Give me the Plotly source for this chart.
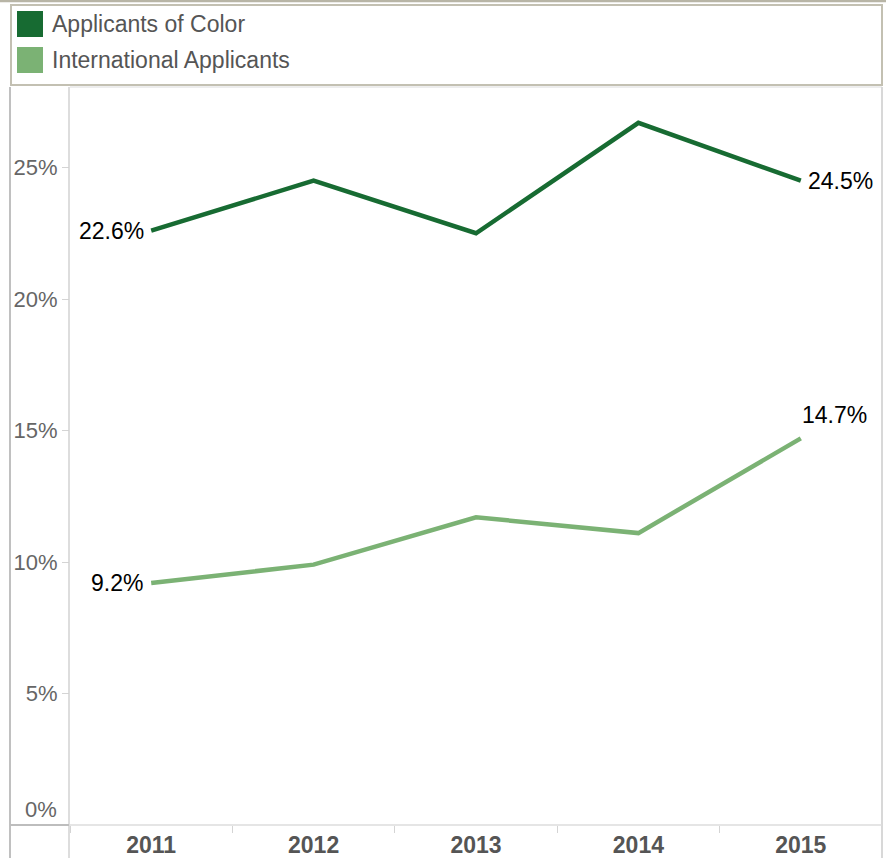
import plotly.graph_objects as go

# Share of applicants by group, 2011-2015 (percent)
years = ["2011", "2012", "2013", "2014", "2015"]
color_applicants = [22.6, 24.5, 22.5, 26.7, 24.5]
intl_applicants = [9.2, 9.9, 11.7, 11.1, 14.7]
series_names = ["Applicants of Color", "International Applicants"]
y_ticks = [0, 5, 10, 15, 20, 25]
y_tick_text = ["", "5%", "10%", "15%", "20%", "25%"]

DARK = "#176b32"
LIGHT = "#7bb274"
FONT = "Liberation Sans, Arial, sans-serif"

W, H = 886, 858
L, R, T, B = 70, 882, 87, 825   # plot area in pixels


def xp(px):
    return (px - L) / (R - L)


def yp(py):
    return (B - py) / (B - T)


fig = go.Figure()
for name, vals, col in [
    (series_names[0], color_applicants, DARK),
    (series_names[1], intl_applicants, LIGHT),
]:
    fig.add_trace(go.Scatter(
        x=years, y=vals, name=name, mode="lines",
        line=dict(color=col, width=4.5),
        hoverinfo="skip", showlegend=False,
    ))

shapes = []
annotations = []


def line(x0, y0, x1, y1, color, width=1):
    shapes.append(dict(type="line", xref="paper", yref="paper",
                       x0=xp(x0), y0=yp(y0), x1=xp(x1), y1=yp(y1),
                       line=dict(color=color, width=width), layer="above"))


def value_label(year, val, xanchor, yanchor, xshift, yshift):
    # category axes take the category's serial number for annotations
    annotations.append(dict(xref="x", yref="y", x=years.index(year), y=val,
                            text=f"{val:.1f}%", showarrow=False,
                            xanchor=xanchor, yanchor=yanchor,
                            xshift=xshift, yshift=yshift,
                            font=dict(family=FONT, size=23, color="#000000")))


# First/last values called out on each line
value_label(years[0], color_applicants[0], "right", "middle", -5, 0)
value_label(years[-1], color_applicants[-1], "left", "middle", 5, 0)
value_label(years[0], intl_applicants[0], "right", "middle", -6, 0)
value_label(years[-1], intl_applicants[-1], "left", "bottom", -1, 8)

# Frame around the chart panes
line(0, 1, W, 1, "#b8b5a6", 2.5)                 # top rule
line(L, T, R, T, "#dcdcdc", 1)                   # plot top edge
line(10, T, 10, H, "#c0c0c0", 2)                 # left border
line(L - 1, T, L - 1, H, "#d2d2d2", 1.5)         # axis pane divider
line(R, T, R, H, "#d8d8d8", 2)                   # right border
line(10, B, L - 1, B, "#bdbdbd", 2)              # baseline under axis pane
line(L - 1, B, R, B, "#dddddd", 1.5)             # baseline under plot

# Legend box
shapes.append(dict(type="rect", xref="paper", yref="paper",
                   x0=xp(11), y0=yp(85), x1=xp(882), y1=yp(5),
                   line=dict(color="#c3c0b2", width=2), fillcolor="white",
                   layer="above"))
for i, (name, col) in enumerate(zip(series_names, [DARK, LIGHT])):
    top = 11 + i * 36
    shapes.append(dict(type="rect", xref="paper", yref="paper",
                       x0=xp(17), y0=yp(top + 26), x1=xp(43), y1=yp(top),
                       line=dict(width=0), fillcolor=col, layer="above"))
    annotations.append(dict(xref="paper", yref="paper", x=xp(50),
                            y=yp(top + 13), xanchor="left", yanchor="middle",
                            text=name, showarrow=False,
                            font=dict(family=FONT, size=23, color="#555555")))

# 0% label sits above the baseline
annotations.append(dict(xref="paper", yref="y", x=0, y=0, xanchor="right",
                        yanchor="bottom", xshift=-11, yshift=1,
                        text="0%", showarrow=False,
                        font=dict(family=FONT, size=22, color="#666666")))

fig.update_layout(
    width=W, height=H,
    margin=dict(l=L, r=W - R, t=T, b=H - B, pad=0),
    paper_bgcolor="white", plot_bgcolor="white",
    shapes=shapes, annotations=annotations,
    showlegend=False,
    xaxis=dict(type="category", range=[-0.5, 4.5], showgrid=False,
               zeroline=False, showline=False, automargin=False,
               ticks="outside", tickson="boundaries", ticklen=7,
               tickcolor="#d4d4d4", tickwidth=1, ticklabelstandoff=4,
               tickfont=dict(family=FONT, size=23, color="#555555"),
               tickprefix="<b>", ticksuffix="</b>", fixedrange=True),
    yaxis=dict(range=[0, (B - T) / 26.3], showgrid=False, zeroline=False,
               showline=False, tickvals=y_ticks, ticktext=y_tick_text,
               automargin=False,
               ticks="outside", ticklen=7, tickcolor="#d4d4d4",
               tickfont=dict(family=FONT, size=22, color="#666666"),
               fixedrange=True),
)

fig.write_html("out.html")
